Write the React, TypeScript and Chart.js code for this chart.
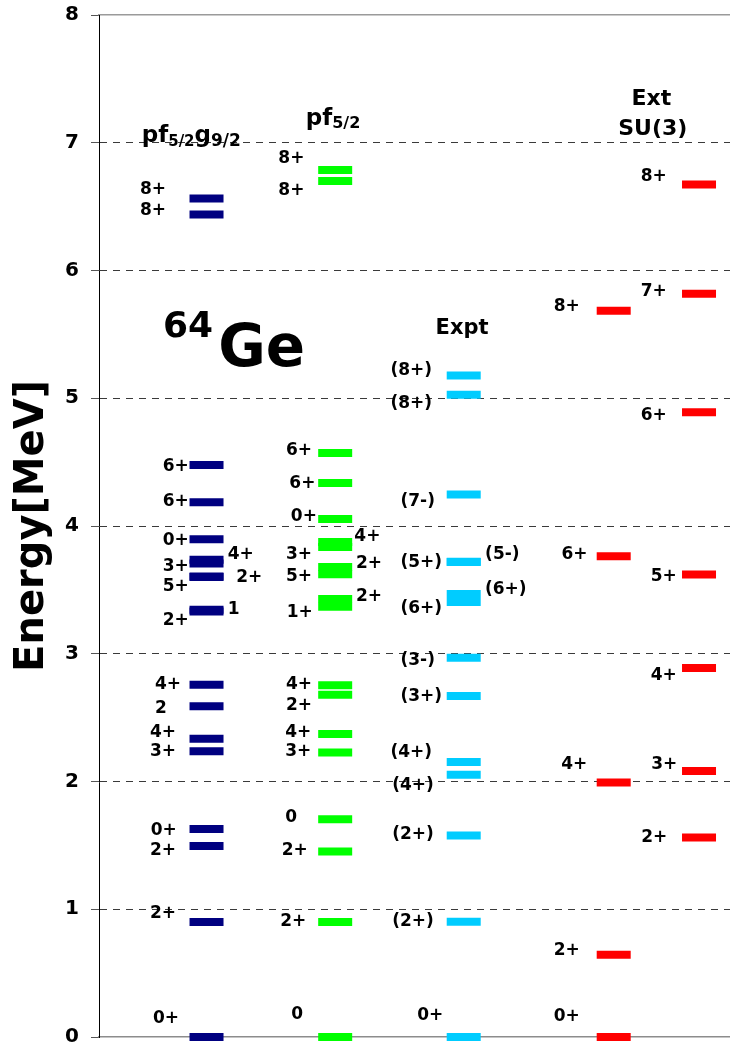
import React, { useEffect, useRef } from "react";
import { Chart, registerables } from "chart.js";

Chart.register(...registerables);

const FONT = '"DejaVu Sans", Verdana, sans-serif';

// ---- axis ----
const Y_MIN = 0;
const Y_MAX = 8;
const Y_STEP = 1;
const Y_TITLE = "Energy[MeV]";
const X_MIN = 0;
const X_MAX = 10;

// ---- columns (x position on a 0..10 axis) ----
const COLUMN_X = [1.704, 3.743, 5.78, 8.157, 9.509];
const COLUMN_COLORS = ["#000080", "#00FF00", "#00CCFF", "#FF0000", "#FF0000"];

// ---- pf5/2 g9/2 ----
const PFG_ENERGY = [0, 0.9, 1.496, 1.629, 2.237, 2.334, 2.59, 2.757, 3.33, 3.345, 3.6, 3.605, 3.707, 3.736, 3.897, 4.185, 4.477, 6.438, 6.564];
const PFG_SPIN = ["0+", "2+", "2+", "0+", "3+", "4+", "2", "4+", "2+", "1", "5+", "2+", "3+", "4+", "0+", "6+", "6+", "8+", "8+"];

// ---- pf5/2 ----
const PF_ENERGY = [0, 0.9, 1.452, 1.705, 2.227, 2.372, 2.68, 2.754, 3.367, 3.429, 3.623, 3.68, 3.835, 3.874, 4.054, 4.336, 4.571, 6.7, 6.787];
const PF_SPIN = ["0", "2+", "2+", "0", "3+", "4+", "2+", "4+", "1+", "2+", "5+", "2+", "3+", "4+", "0+", "6+", "6+", "8+", "8+"];

// ---- Expt ----
const EXPT_ENERGY = [0, 0.903, 1.578, 2.052, 2.153, 2.669, 2.969, 3.406, 3.467, 3.719, 3.72, 4.246, 5.027, 5.179];
const EXPT_SPIN = ["0+", "(2+)", "(2+)", "(4+)", "(4+)", "(3+)", "(3-)", "(6+)", "(6+)", "(5+)", "(5-)", "(7-)", "(8+)", "(8+)"];

// ---- SU(3) ----
const SU3_ENERGY = [0, 0.644, 1.993, 3.763, 5.684];
const SU3_SPIN = ["0+", "2+", "4+", "6+", "8+"];

// ---- Ext SU(3) ----
const EXT_ENERGY = [1.562, 2.083, 2.889, 3.62, 4.89, 5.818, 6.673];
const EXT_SPIN = ["2+", "3+", "4+", "5+", "6+", "7+", "8+"];

// ---- label placement (label energy, horizontal offset in px from column centre) ----
const PFG_LABEL_E = [0.159, 0.98, 1.475, 1.629, 2.245, 2.396, 2.584, 2.775, 3.276, 3.363, 3.537, 3.61, 3.694, 3.79, 3.903, 4.203, 4.482, 6.48, 6.646];
const PFG_LABEL_DX = [-40.5, -43.5, -43.5, -42.8, -43.5, -43.5, -45.7, -38.5, -30.7, 27.2, -30.7, 42.7, -30.7, 34.3, -30.7, -30.7, -30.7, -53.5, -53.5];
const PF_LABEL_E = [0.186, 0.916, 1.475, 1.731, 2.245, 2.396, 2.611, 2.775, 3.336, 3.459, 3.615, 3.72, 3.79, 3.934, 4.091, 4.346, 4.608, 6.643, 6.89];
const PF_LABEL_DX = [-38, -42, -40.5, -44, -37, -37, -36.2, -36.2, -35.5, 33.8, -36.2, 33.8, -36.2, 32.2, -31.3, -32.8, -36.2, -43.8, -43.8];
const EXPT_LABEL_E = [0.183, 0.919, 1.597, 1.984, 2.237, 2.676, 2.963, 3.367, 3.519, 3.725, 3.793, 4.203, 4.973, 5.234];
const EXPT_LABEL_DX = [-33.4, -50.7, -50.7, -50.7, -52.4, -42.4, -46, -42.4, 42, -42.4, 38.6, -46, -52.4, -52.4];
const SU3_LABEL_E = [0.17, 0.692, 2.146, 3.793, 5.735];
const SU3_LABEL_DX = [-46.9, -46.9, -39.5, -39.2, -47];
const EXT_LABEL_E = [1.572, 2.146, 2.846, 3.615, 4.876, 5.847, 6.748];
const EXT_LABEL_DX = [-44.8, -34.8, -35.2, -35.2, -45.2, -45.2, -45.2];

const COLUMNS = [
  { energy: PFG_ENERGY, spin: PFG_SPIN, labelE: PFG_LABEL_E, labelDx: PFG_LABEL_DX },
  { energy: PF_ENERGY, spin: PF_SPIN, labelE: PF_LABEL_E, labelDx: PF_LABEL_DX },
  { energy: EXPT_ENERGY, spin: EXPT_SPIN, labelE: EXPT_LABEL_E, labelDx: EXPT_LABEL_DX },
  { energy: SU3_ENERGY, spin: SU3_SPIN, labelE: SU3_LABEL_E, labelDx: SU3_LABEL_DX },
  { energy: EXT_ENERGY, spin: EXT_SPIN, labelE: EXT_LABEL_E, labelDx: EXT_LABEL_DX },
];

// ---- headings: [text, font size, baseline shift px, extra gap after px] runs ----
type Run = [string, number, number, number];
const HEADINGS: { x: number; y: number; align: "left" | "center"; runs: Run[] }[] = [
  { x: 0.677, y: 7.002, align: "left", runs: [["pf", 23, 0, 0], ["5/2", 15, 3.5, 0], ["g", 23, 0, 0], ["9/2", 17, 3.5, 0]] },
  { x: 3.276, y: 7.139, align: "left", runs: [["pf", 23, 0, 0], ["5/2", 16, 3.5, 0]] },
  { x: 5.753, y: 5.503, align: "center", runs: [["Expt", 21, 0, 0]] },
  { x: 8.753, y: 7.295, align: "center", runs: [["Ext", 22, 0, 0]] },
  { x: 8.777, y: 7.061, align: "center", runs: [["SU(3)", 22, 0, 0]] },
  { x: 1.014, y: 5.48, align: "left", runs: [["64", 36, 0, 0]] },
  { x: 1.89, y: 5.253, align: "left", runs: [["Ge", 58, 0, 0]] },
];

const LABEL_SIZE = 17;

const annotationPlugin = {
  id: "levelAnnotations",
  afterDatasetsDraw(chart: any) {
    const ctx = chart.ctx;
    const xs = chart.scales.x;
    const ys = chart.scales.y;
    ctx.save();
    ctx.fillStyle = "#000";
    ctx.textBaseline = "alphabetic";
    ctx.font = `bold ${LABEL_SIZE}px ${FONT}`;
    ctx.textAlign = "center";
    COLUMNS.forEach((col, ci) => {
      const cx = xs.getPixelForValue(COLUMN_X[ci]);
      col.spin.forEach((s, i) => {
        const y = ys.getPixelForValue(col.labelE[i]);
        ctx.fillText(s, cx + col.labelDx[i], y + (LABEL_SIZE * 0.729) / 2);
      });
    });
    ctx.textAlign = "left";
    HEADINGS.forEach((h) => {
      let total = 0;
      h.runs.forEach(([t, size, , gap]) => {
        ctx.font = `bold ${size}px ${FONT}`;
        total += ctx.measureText(t).width + gap;
      });
      let x = xs.getPixelForValue(h.x);
      if (h.align === "center") x -= total / 2;
      const y = ys.getPixelForValue(h.y);
      h.runs.forEach(([t, size, dy, gap]) => {
        ctx.font = `bold ${size}px ${FONT}`;
        ctx.fillText(t, x, y + dy);
        x += ctx.measureText(t).width + gap;
      });
    });
    ctx.restore();
  },
};

const zeroPadding = (s: any) => {
  s.paddingTop = 0;
  s.paddingBottom = 0;
  s.paddingLeft = 0;
  s.paddingRight = 0;
};

export default function App() {
  const ref = useRef<HTMLCanvasElement | null>(null);

  useEffect(() => {
    if (!ref.current) return;
    const datasets = COLUMNS.map((col, ci) => ({
      label: String(ci),
      data: col.energy.map((e) => ({ x: COLUMN_X[ci], y: e })),
      pointStyle: "line" as const,
      pointRadius: 17,
      pointHoverRadius: 17,
      pointBorderWidth: 8,
      pointHoverBorderWidth: 8,
      borderColor: COLUMN_COLORS[ci],
      backgroundColor: COLUMN_COLORS[ci],
      showLine: false,
      clip: false as any,
    }));

    const chart = new Chart(ref.current, {
      type: "scatter",
      data: { datasets },
      options: {
        animation: false,
        responsive: false,
        events: [],
        layout: { padding: 0, autoPadding: false },
        plugins: {
          legend: { display: false },
          tooltip: { enabled: false },
          title: { display: false },
        },
        scales: {
          x: {
            type: "linear",
            position: "bottom",
            min: X_MIN,
            max: X_MAX,
            grid: { display: false, drawTicks: false },
            ticks: { display: false },
            border: { display: true, color: "#8c8c8c", width: 1.5 },
            afterFit: (s: any) => {
              s.height = 8;
              zeroPadding(s);
            },
          },
          x2: {
            type: "linear",
            position: "top",
            min: X_MIN,
            max: X_MAX,
            grid: { display: false, drawTicks: false },
            ticks: { display: false },
            border: { display: true, color: "#9a9a9a", width: 1.5 },
            afterFit: (s: any) => {
              s.height = 15;
              zeroPadding(s);
            },
          },
          y: {
            type: "linear",
            min: Y_MIN,
            max: Y_MAX,
            ticks: {
              stepSize: Y_STEP,
              padding: 12,
              color: "#000",
              font: { family: FONT, size: 20, weight: "bold" },
            },
            grid: {
              color: (c: any) =>
                c.tick && (c.tick.value === Y_MIN || c.tick.value === Y_MAX) ? "rgba(0,0,0,0)" : "#3a3a3a",
              tickColor: "#555",
              tickLength: 8,
              lineWidth: 1,
            },
            border: { display: true, color: "#000", width: 1, dash: [7, 6] },
            title: {
              display: true,
              text: Y_TITLE,
              color: "#000",
              font: { family: FONT, size: 40, weight: "bold" },
              padding: { top: 9, bottom: 0 },
            },
            afterFit: (s: any) => {
              s.width = 99;
              zeroPadding(s);
            },
          },
        },
      },
      plugins: [annotationPlugin],
    } as any);
    return () => chart.destroy();
  }, []);

  return (
    <div style={{ position: "absolute", left: 0, top: 0, width: 730, height: 1045, background: "#fff" }}>
      <canvas ref={ref} width={730} height={1045} style={{ width: 730, height: 1045, display: "block" }} />
    </div>
  );
}
